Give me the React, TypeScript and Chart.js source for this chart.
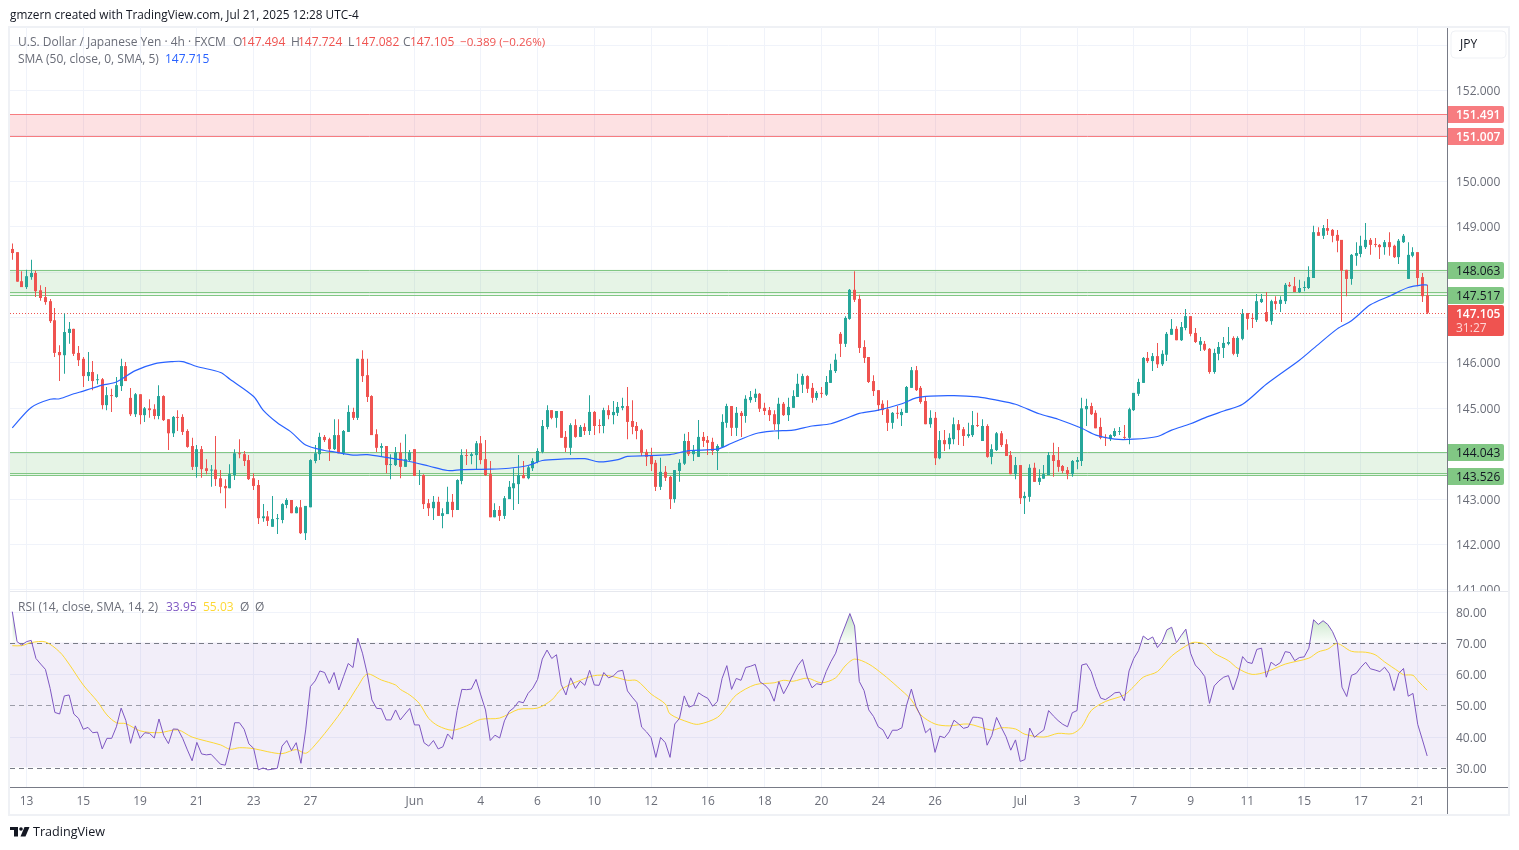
import { useEffect, useRef } from 'react'
import { Chart, registerables } from 'chart.js'

Chart.register(...registerables)

const FONT = '"Open Sans", sans-serif'
const UP = '#26a69a'
const DOWN = '#ef5350'
const GRID = '#f0f3fa'
const AXIS_TEXT = '#6a6d78'

const opens = [
  148.51,148.44,147.80,147.67,147.89,147.98,147.60,147.45,147.36,146.94,
  146.24,146.17,146.66,146.75,146.22,146.09,145.71,145.80,145.62,145.64,
  145.07,145.29,145.25,145.49,145.93,145.23,144.87,145.31,144.85,145.00,
  144.98,144.83,145.27,144.76,144.45,144.81,144.81,144.50,144.17,143.71,
  144.10,143.68,143.63,143.65,143.46,143.29,143.24,143.53,144.01,143.99,
  143.86,143.46,143.31,142.58,142.62,142.39,142.56,142.54,142.87,142.98,
  142.69,142.82,142.25,142.82,143.84,143.99,144.37,144.32,144.10,144.41,
  144.01,144.48,144.92,144.79,146.09,145.73,145.27,144.43,144.13,144.17,
  143.75,143.75,144.03,143.71,143.86,144.10,143.51,143.53,142.91,142.80,
  142.94,142.63,142.67,142.94,142.76,143.40,143.97,143.95,143.97,144.23,
  143.88,143.55,142.60,142.76,142.63,143.00,143.24,143.33,143.53,143.46,
  143.68,143.82,144.04,144.59,144.96,144.79,144.94,144.37,144.13,144.63,
  144.37,144.59,144.50,144.92,144.63,144.61,144.96,144.85,144.90,145.01,
  145.05,144.72,144.61,144.52,144.04,143.95,143.80,143.27,143.60,143.49,
  143.00,143.62,143.78,144.28,143.99,143.93,144.37,144.30,144.26,144.06,
  144.15,144.68,145.05,144.57,144.90,144.83,145.18,145.23,145.32,145.01,
  144.96,144.87,144.65,145.10,144.85,145.01,145.25,145.52,145.71,145.45,
  145.23,145.34,145.30,145.56,145.82,146.64,146.42,146.97,147.61,147.41,
  146.35,146.13,145.60,145.40,145.10,144.98,144.68,144.90,144.85,144.90,
  145.45,145.84,145.45,145.16,144.65,144.79,143.90,144.30,144.21,144.32,
  144.65,144.54,144.39,144.41,144.63,144.28,144.61,143.93,144.08,144.45,
  144.21,143.97,143.55,143.75,143.02,143.05,143.69,143.38,143.45,143.53,
  143.97,143.86,143.73,143.64,143.55,143.82,143.84,144.98,145.05,144.90,
  144.59,144.37,144.32,144.39,144.48,144.37,144.35,144.96,145.32,145.56,
  146.11,146.04,146.15,145.97,146.18,146.62,146.75,146.50,146.77,147.03,
  146.66,146.40,146.42,146.31,145.80,146.20,146.33,146.42,146.55,146.20,
  146.53,147.10,146.99,146.95,147.34,147.12,146.92,147.36,147.30,147.36,
  147.72,147.69,147.56,147.65,147.65,147.87,148.88,148.80,148.97,148.93,
  148.82,148.71,148.05,147.85,148.36,148.40,148.55,148.71,148.62,148.60,
  148.55,148.66,148.58,148.33,148.66,147.85,148.36,148.44,147.89,147.49,
]

const highs = [
  148.63,148.44,148.02,148.05,148.27,148.03,147.71,147.67,147.41,147.21,
  146.39,147.09,146.90,146.75,146.37,146.13,146.24,146.04,145.75,145.67,
  145.47,145.43,145.69,146.09,146.02,145.45,145.34,145.31,145.03,145.20,
  145.09,145.51,145.29,144.76,144.83,144.96,144.87,144.54,144.35,144.19,
  144.17,143.88,143.75,144.39,143.64,143.44,143.77,144.10,144.32,144.06,
  143.97,143.57,143.42,142.89,142.74,143.07,142.67,142.91,143.02,142.98,
  142.85,142.98,142.85,143.88,144.19,144.46,144.41,144.35,144.76,144.76,
  144.52,145.07,145.01,146.09,146.28,146.09,145.29,144.54,144.23,144.17,
  143.99,144.15,144.24,144.43,144.08,144.10,143.64,143.55,143.00,143.07,
  143.05,142.80,143.27,143.11,143.44,144.10,144.10,144.04,144.28,144.39,
  144.30,143.84,142.91,142.85,143.07,143.40,143.68,143.97,143.84,143.73,
  143.90,144.12,144.74,145.07,144.96,144.94,144.94,144.50,144.67,144.76,
  144.63,144.67,145.29,144.94,144.76,145.01,145.07,145.16,145.14,145.23,
  145.47,145.18,144.70,144.55,144.10,144.13,143.86,143.91,143.73,143.51,
  143.64,143.88,144.44,144.48,144.19,144.74,144.48,144.39,144.35,144.21,
  144.87,145.10,145.05,145.03,144.94,145.29,145.38,145.43,145.34,145.12,
  145.03,144.96,145.23,145.14,145.23,145.40,145.76,145.76,145.73,145.56,
  145.38,145.47,145.71,145.98,146.20,146.68,147.03,147.63,148.02,147.50,
  146.50,146.13,145.73,145.40,145.18,145.18,144.92,145.05,144.99,145.49,
  145.91,145.93,145.49,145.25,144.96,144.92,144.50,144.52,144.45,144.80,
  144.74,144.59,144.68,144.94,144.90,144.76,144.65,144.21,144.48,144.50,
  144.32,144.06,143.93,143.75,143.16,143.77,143.80,143.66,143.75,144.04,
  144.24,144.15,143.75,143.71,143.86,143.93,145.23,145.21,145.12,144.96,
  144.79,144.43,144.43,144.56,144.59,144.63,145.01,145.34,145.65,146.13,
  146.24,146.22,146.44,146.28,146.68,146.97,146.81,146.90,147.19,147.03,
  146.77,146.57,146.48,146.33,146.31,146.46,146.57,146.79,146.59,146.59,
  147.19,147.10,147.10,147.52,147.52,147.56,147.39,147.47,147.47,147.76,
  147.78,147.89,147.83,147.80,148.13,149.02,148.99,149.04,149.17,148.95,
  148.93,148.71,148.05,148.40,148.66,148.80,149.08,148.75,148.75,148.62,
  148.71,148.88,148.60,148.73,148.84,148.66,148.55,148.44,147.98,147.72,
]

const lows = [
  148.27,147.79,147.67,147.63,147.83,147.45,147.37,147.28,146.88,146.13,
  145.60,145.76,146.42,146.15,145.93,145.47,145.60,145.40,145.53,144.98,
  144.96,144.92,145.23,145.38,145.60,144.83,144.81,144.65,144.70,144.79,
  144.76,144.76,144.72,144.08,144.37,144.50,144.41,144.13,143.64,143.47,
  143.47,143.55,143.27,143.29,143.13,142.80,143.24,143.42,143.90,143.73,
  143.42,143.20,142.45,142.50,142.41,142.39,142.23,142.47,142.80,142.69,
  142.69,142.23,142.10,142.82,143.79,143.86,144.26,143.84,144.08,144.01,
  143.97,144.48,144.74,144.74,145.58,145.14,144.41,144.04,143.95,143.57,
  143.44,143.73,143.46,143.71,143.84,143.51,143.31,142.78,142.63,142.54,
  142.63,142.36,142.67,142.60,142.76,143.33,143.75,143.77,143.66,143.77,
  143.51,142.60,142.60,142.52,142.56,143.00,142.76,142.89,143.46,143.44,
  143.62,143.79,144.01,144.54,144.76,144.57,144.35,144.04,143.97,144.35,
  144.37,144.41,144.41,144.41,144.45,144.45,144.76,144.65,144.83,144.96,
  144.32,144.43,144.32,143.95,143.73,143.62,143.18,143.20,143.40,142.78,
  142.92,143.38,143.75,143.95,143.84,143.93,144.15,143.97,143.97,143.64,
  144.13,144.57,144.39,144.39,144.37,144.68,145.12,145.14,144.92,144.85,
  144.72,144.52,144.32,144.83,144.72,145.01,145.25,145.34,145.34,145.12,
  145.18,145.23,145.27,145.56,145.78,146.13,146.35,146.95,147.34,146.22,
  146.00,145.56,145.27,144.94,144.85,144.50,144.55,144.77,144.61,144.90,
  145.45,145.38,145.10,144.65,144.57,143.75,143.88,144.06,144.10,144.21,
  144.19,144.17,144.35,144.37,144.59,144.28,143.91,143.77,144.06,144.15,
  143.95,143.55,143.44,142.89,142.67,142.94,143.38,143.31,143.45,143.53,
  143.49,143.60,143.57,143.44,143.49,143.66,143.73,144.61,144.85,144.56,
  144.32,144.17,144.28,144.37,144.41,144.32,144.21,144.94,145.27,145.56,
  146.00,145.82,145.89,145.93,146.04,146.62,146.50,146.48,146.72,146.59,
  146.44,146.26,146.26,145.76,145.76,146.06,146.11,146.39,146.17,146.13,
  146.50,146.73,146.77,146.90,147.32,146.90,146.84,147.17,147.12,147.30,
  147.67,147.56,147.54,147.58,147.63,147.87,148.80,148.73,148.82,148.66,
  148.44,146.90,147.47,147.72,148.14,148.33,148.51,148.38,148.55,148.29,
  148.38,148.36,148.31,148.18,148.64,147.85,148.33,147.69,147.34,147.08,
]

const closes = [
  148.42,147.79,147.67,147.91,147.98,147.58,147.43,147.34,146.92,146.22,
  146.17,146.68,146.75,146.20,146.06,145.71,145.80,145.60,145.64,145.07,
  145.29,145.27,145.51,145.93,145.60,144.87,145.31,144.85,145.00,144.96,
  144.83,145.27,144.74,144.45,144.81,144.79,144.48,144.15,143.71,144.10,
  143.66,143.62,143.65,143.44,143.27,143.24,143.55,144.01,143.99,143.84,
  143.44,143.29,142.58,142.62,142.52,142.56,142.58,142.89,142.98,142.69,
  142.82,142.25,142.85,143.86,144.01,144.37,144.30,144.10,144.41,144.01,
  144.50,144.92,144.79,146.09,145.71,145.25,144.41,144.13,144.17,143.75,
  143.77,144.03,143.71,143.88,144.03,143.51,143.52,142.89,142.80,142.94,
  142.63,142.69,142.94,142.76,143.42,143.97,143.95,143.99,144.23,143.86,
  143.53,142.60,142.76,142.63,143.02,143.27,143.35,143.53,143.46,143.70,
  143.84,144.06,144.61,144.96,144.79,144.94,144.35,144.13,144.63,144.37,
  144.59,144.50,144.92,144.61,144.61,144.96,144.85,144.92,145.03,145.05,
  144.70,144.59,144.50,144.02,143.93,143.77,143.27,143.60,143.47,143.00,
  143.64,143.80,144.28,143.99,144.08,144.37,144.28,144.24,144.06,144.17,
  144.70,145.05,144.57,144.90,144.83,145.21,145.25,145.32,144.99,144.94,
  144.85,144.65,145.10,144.85,145.03,145.27,145.54,145.71,145.43,145.23,
  145.34,145.32,145.58,145.84,146.07,146.42,146.99,147.61,147.39,146.33,
  146.11,145.58,145.38,145.07,144.96,144.68,144.90,144.88,144.92,145.47,
  145.84,145.40,145.14,144.65,144.79,143.90,144.30,144.21,144.35,144.65,
  144.52,144.39,144.43,144.63,144.61,144.61,143.93,144.10,144.45,144.19,
  143.95,143.55,143.75,143.02,143.07,143.69,143.38,143.47,143.55,143.97,
  143.84,143.71,143.62,143.55,143.84,143.86,145.00,145.05,144.87,144.56,
  144.35,144.35,144.41,144.50,144.50,144.35,144.98,145.34,145.58,146.11,
  146.04,146.15,145.97,146.20,146.64,146.75,146.50,146.79,147.03,146.64,
  146.46,146.48,146.29,145.80,146.22,146.35,146.44,146.46,146.20,146.55,
  147.08,146.97,146.97,147.36,147.41,146.92,147.36,147.30,147.39,147.72,
  147.69,147.56,147.65,147.67,147.89,148.88,148.80,148.97,148.91,148.80,
  148.69,148.03,147.85,148.38,148.42,148.58,148.71,148.60,148.60,148.55,
  148.66,148.55,148.33,148.69,148.80,148.38,148.44,147.87,147.47,147.105,
]

// SMA 50 at these bars
const smaBars = [
  0,4,8,10,13,15,19,22,26,30,34,36,39,44,46,51,53,56,59,62,66,68,72,75,79,83,88,92,95,101,
  105,109,112,116,121,124,128,130,139,143,149,152,157,161,165,169,173,176,179,183,188,191,194,
  199,204,208,212,217,221,226,229,233,237,242,245,249,252,256,260,265,272,275,280,283,287,291,295,298,299,
]
const smaValues = [
  144.57,145.02,145.20,145.21,145.32,145.38,145.51,145.58,145.83,145.98,146.03,146.03,145.92,145.79,145.64,145.26,144.96,144.68,144.47,144.19,144.07,144.04,143.97,143.98,143.92,143.85,143.73,143.63,143.65,143.66,
  143.68,143.74,143.85,143.88,143.89,143.82,143.87,143.94,143.98,144.07,144.10,144.23,144.44,144.50,144.52,144.61,144.66,144.77,144.89,144.96,145.10,145.23,145.27,
  145.28,145.25,145.18,145.09,144.88,144.76,144.56,144.41,144.32,144.32,144.38,144.52,144.66,144.79,144.94,145.09,145.53,146.06,146.32,146.75,146.93,147.28,147.47,147.66,147.72,147.715,
]

const rsi = [
  80.2,70.6,69.5,70.6,71.0,65.2,63.4,61.7,55.6,47.9,
  47.4,53.2,53.5,47.4,46.0,42.5,43.1,41.4,41.6,36.2,
  39.6,39.6,43.3,49.3,45.3,38.0,43.6,39.6,41.4,41.2,
  39.7,45.8,40.5,37.9,42.6,42.5,39.6,35.9,32.4,38.3,
  34.6,34.3,34.5,32.9,31.3,31.0,36.9,44.6,44.6,42.5,
  37.8,36.4,29.5,30.1,29.5,29.7,30.0,37.1,38.9,35.7,
  38.2,31.6,42.3,56.2,58.0,61.2,60.7,57.2,60.7,55.1,
  59.4,63.6,62.3,71.7,66.9,60.4,51.9,49.2,49.1,45.5,
  45.5,48.7,45.5,47.4,49.2,43.9,43.9,38.2,37.1,38.9,
  36.2,36.9,41.0,39.3,48.5,55.3,55.2,55.4,58.5,53.5,
  48.7,38.9,40.6,39.7,45.2,48.2,49.4,51.4,51.0,54.0,
  55.7,58.5,65.0,67.9,65.2,66.4,56.9,53.5,59.0,55.6,
  57.9,56.6,61.4,56.7,56.6,60.7,59.0,59.6,61.1,61.4,
  54.8,52.8,51.0,43.2,41.7,39.8,33.5,39.9,38.2,33.5,
  44.2,46.0,53.2,49.6,50.2,54.2,53.2,52.4,49.9,51.4,
  58.8,62.9,55.3,58.8,58.2,62.3,62.7,63.3,57.7,56.7,
  55.1,51.5,57.8,53.9,56.7,59.9,62.9,64.9,59.2,55.8,
  57.1,56.8,61.0,64.2,66.9,71.7,75.6,79.6,75.6,57.8,
  54.9,48.7,46.6,43.3,42.3,39.4,42.2,42.2,43.0,50.3,
  55.4,49.8,46.6,41.4,42.8,35.1,40.3,39.8,41.7,45.4,
  44.2,42.8,43.2,46.4,46.3,46.0,37.4,40.5,46.3,43.1,
  40.1,35.8,39.1,32.2,32.8,42.9,39.9,41.2,42.3,48.5,
  46.8,45.3,44.1,43.3,47.8,48.5,63.1,63.5,61.0,56.2,
  52.5,52.0,53.0,54.2,54.4,51.6,61.2,65.2,67.7,72.4,
  71.2,72.1,68.7,70.6,74.4,75.2,70.3,72.5,74.6,66.9,
  63.1,61.5,59.4,50.8,56.4,58.0,59.2,59.7,55.1,59.6,
  65.8,64.0,63.6,68.1,68.5,59.2,64.0,62.9,63.9,67.4,
  67.1,64.5,65.5,65.7,68.5,77.6,76.1,77.3,76.1,73.8,
  70.3,56.0,53.0,59.8,60.4,62.4,64.0,61.9,61.5,61.0,
  62.4,60.4,54.9,60.4,62.0,53.1,54.0,44.1,39.1,33.95,
]

// RSI moving average at these bars
const rsiMaBars = [
  0,2,4,7,10,12,15,18,20,22,24,27,31,35,38,44,46,48,51,54,57,60,62,64,68,71,73,75,78,81,82,84,86,88,90,93,96,99,103,107,111,114,116,120,123,126,130,132,135,138,139,143,145,149,151,153,157,161,163,165,168,171,174,176,178,181,184,187,190,192,195,198,202,207,209,212,214,218,221,224,226,228,231,235,237,239,242,245,249,250,252,254,257,259,262,265,269,274,276,278,280,283,286,288,290,293,294,296,297,299,
]
const rsiMaValues = [
  69.3,69.3,70.3,70.5,67.3,63.4,56.7,51.4,47.1,44.6,44.3,42.0,41.4,42.3,40.0,37.5,36.1,36.6,36.3,35.3,34.7,36.0,34.8,37.5,45.0,51.4,56.2,60.2,58.3,56.7,55.3,53.5,50.8,46.0,43.6,42.2,43.6,45.7,46.1,48.9,49.3,51.9,55.3,58.2,59.7,59.7,58.2,58.1,53.8,50.6,47.4,44.7,44.1,46.3,49.8,53.5,56.8,57.4,58.2,57.9,58.9,57.4,59.0,62.8,65.0,63.4,60.1,56.2,51.9,47.1,44.2,43.6,44.2,42.2,43.0,42.6,40.9,40.0,41.2,41.1,43.3,48.5,51.4,53.5,56.2,59.2,61.0,66.0,70.1,70.4,69.8,66.9,64.5,62.0,60.1,60.9,63.4,65.3,67.3,68.2,70.0,67.5,67.2,66.4,64.1,61.0,60.0,59.8,58.1,55.03,
]

const tickBars = [3,15,27,39,51,63,85,99,111,123,135,147,159,171,183,195,213,225,237,249,261,273,285,297]
const tickLabels = ['13','15','19','21','23','27','Jun','4','6','10','12','16','18','20','24','26','Jul','3','7','9','11','15','17','21']

const rsiGridLevels = [80, 70, 60, 50, 40, 30]

const redZone = [151.491, 151.007]
const upperGreenZone = [148.063, 147.517, 147.58]
const lowerGreenZone = [144.043, 143.54, 143.58]
const lastPrice = 147.105
const priceTags = [151.491, 151.007, 148.063, 147.517, 144.043, 143.526]

const overlay = {
  id: 'overlay',
  beforeDraw(chart: any) {
    const { ctx } = chart
    ctx.save()
    ctx.fillStyle = '#fff'
    ctx.fillRect(0, 0, chart.width, chart.height)
    ctx.strokeStyle = '#eff1f5'
    ctx.lineWidth = 2
    ctx.strokeRect(9, 27, 1500, 788)
    ctx.restore()
    // the value axis text sits one pixel lower in the reference
    ;[chart.scales.price, chart.scales.rsi].forEach((scale: any) => {
      scale.getLabelItems(chart.chartArea).forEach((item: any) => {
        if (item.moved) return
        item.options.translation = [item.options.translation[0], item.options.translation[1] + 1]
        item.moved = true
      })
    })
  },
  afterDatasetsUpdate(chart: any) {
    // keep candles on whole pixels so wicks stay sharp
    chart.data.datasets.forEach((ds: any, i: number) => {
      if (ds.type !== 'bar') return
      chart.getDatasetMeta(i).data.forEach((el: any) => {
        el.x = Math.floor(el.x) + 0.5
      })
    })
  },
  beforeDatasetsDraw(chart: any) {
    const { ctx, chartArea, scales } = chart
    const { left, right } = chartArea
    const py = (v: number) => scales.price.getPixelForValue(v)
    const ry = (v: number) => scales.rsi.getPixelForValue(v) - 1
    const hline = (y: number, color: string, dash: number[] = []) => {
      ctx.beginPath()
      ctx.setLineDash(dash)
      ctx.strokeStyle = color
      ctx.lineWidth = 1
      ctx.moveTo(left, Math.ceil(y) + 0.5)
      ctx.lineTo(right, Math.ceil(y) + 0.5)
      ctx.stroke()
    }
    ctx.save()

    ctx.fillStyle = 'rgba(242,54,69,0.15)'
    ctx.fillRect(left, py(redZone[0]) + 0.5, right - left, py(redZone[1]) - py(redZone[0]))
    redZone.forEach((v) => hline(py(v), '#f77c80'))

    ;[upperGreenZone, lowerGreenZone].forEach((z) => {
      ctx.fillStyle = 'rgba(76,175,80,0.14)'
      ctx.fillRect(left, py(z[0]) + 0.5, right - left, py(z[1]) - py(z[0]))
      z.forEach((v) => hline(py(v), '#81c784'))
    })

    // RSI band and levels
    ctx.fillStyle = 'rgba(126,87,194,0.1)'
    ctx.fillRect(left, ry(70), right - left, ry(30) - ry(70))
    hline(ry(70), '#787b86', [5, 4])
    hline(ry(50), 'rgba(120,123,134,0.7)', [5, 4])
    hline(ry(30), '#787b86', [5, 4])

    hline(py(lastPrice), DOWN, [1, 2])
    ctx.restore()
  },
  afterDraw(chart: any) {
    const { ctx, chartArea, scales } = chart
    const axisX = chartArea.right
    const py = (v: number) => scales.price.getPixelForValue(v)
    const text = (s: string, x: number, y: number, color: string, size = 12, weight = 400) => {
      ctx.font = `${weight} ${size}px ${FONT}`
      ctx.fillStyle = color
      ctx.fillText(s, x, y + 1)
    }
    ctx.save()

    // hides the part of the lowest price label that runs into the RSI pane
    ctx.fillStyle = '#fff'
    ctx.fillRect(axisX + 1, scales.price.bottom - 1, 60, 8)

    ctx.fillStyle = '#e6e8ee'
    ctx.fillRect(chartArea.left, scales.price.bottom - 1, 1498, 1)
    ctx.fillStyle = '#787b86'
    ctx.fillRect(axisX, 28, 1, 786)
    ctx.fillRect(chartArea.left, chartArea.bottom, 1498, 1)

    ctx.textBaseline = 'middle'
    ctx.textAlign = 'left'
    text('gmzern created with TradingView.com, Jul 21, 2025 12:28 UTC-4', 10, 15, '#131722', 11.8)
    text('U.S. Dollar / Japanese Yen · 4h · FXCM', 18, 42, AXIS_TEXT)
    ;[['O', 233, '147.494', 241], ['H', 291, '147.724', 298], ['L', 348, '147.082', 355], ['C', 403, '147.105', 410]].forEach(
      ([a, ax, b, bx]: any) => {
        text(a, ax, 42, AXIS_TEXT)
        text(b, bx, 42, DOWN)
      },
    )
    text('−0.389 (−0.26%)', 460, 42, DOWN, 11.6)
    text('SMA (50, close, 0, SMA, 5)', 18, 59, AXIS_TEXT)
    text('147.715', 165, 59, '#2962ff')
    text('RSI (14, close, SMA, 14, 2)', 18, 607, AXIS_TEXT)
    text('33.95', 166, 607, '#7e57c2')
    text('55.03', 203, 607, '#fdd835')
    text('Ø', 240, 607, AXIS_TEXT)
    text('Ø', 255, 607, AXIS_TEXT)

    // JPY button
    ctx.beginPath()
    ctx.roundRect(1451, 31, 55, 27, 4)
    ctx.fillStyle = '#fff'
    ctx.fill()
    ctx.strokeStyle = '#eff1f5'
    ctx.lineWidth = 1
    ctx.stroke()
    text('JPY', 1460, 44, '#131722')

    const tag = (y: number, h: number, bg: string) => {
      ctx.beginPath()
      ctx.roundRect(axisX + 1, y - h / 2, 56, h, [0, 2, 2, 0])
      ctx.fillStyle = bg
      ctx.fill()
    }
    priceTags.forEach((v) => {
      const y = Math.ceil(py(v))
      const red = v > 150
      tag(y + 0.5, 17, red ? '#f77c80' : '#81c784')
      text(v.toFixed(3), axisX + 9, y + 1, red ? '#fff' : '#131722', 12, red ? 600 : 400)
    })
    const ly = Math.ceil(py(lastPrice))
    ctx.beginPath()
    ctx.roundRect(axisX + 1, ly - 8, 56, 31, [0, 2, 2, 0])
    ctx.fillStyle = DOWN
    ctx.fill()
    text(lastPrice.toFixed(3), axisX + 9, ly + 1, '#fff', 12, 600)
    text('31:27', axisX + 9, ly + 15, '#ffd5d5')

    // TradingView mark
    ctx.fillStyle = '#131722'
    ctx.fillRect(10, 827, 8, 3)
    ctx.fillRect(14, 830, 4, 6.5)
    ctx.beginPath()
    ctx.arc(21, 829, 1.8, 0, Math.PI * 2)
    ctx.fill()
    ctx.beginPath()
    ctx.moveTo(24.5, 827)
    ctx.lineTo(29.5, 827)
    ctx.lineTo(25.5, 836.5)
    ctx.lineTo(20.5, 836.5)
    ctx.closePath()
    ctx.fill()
    text('TradingView', 33, 831, '#131722', 12.6)

    ctx.restore()
  },
}

const App = () => {
  const canvasRef = useRef<HTMLCanvasElement>(null)

  useEffect(() => {
    if (!canvasRef.current) return
    document.body.style.margin = '0'

    const chart = new Chart(canvasRef.current, {
      type: 'bar',
      data: {
        datasets: [
          {
            type: 'line',
            yAxisID: 'price',
            data: smaBars.map((x, i) => ({ x, y: smaValues[i] })),
            borderColor: '#2962ff',
            borderWidth: 1.2,
            pointRadius: 0,
            tension: 0.3,
          },
          {
            type: 'line',
            yAxisID: 'rsi',
            data: rsi.map((y, x) => ({ x, y })),
            borderColor: '#7e57c2',
            borderWidth: 1,
            pointRadius: 0,
            tension: 0,
            fill: { target: { value: 70 }, above: 'rgba(76,175,80,0.2)', below: 'transparent' },
          },
          {
            type: 'line',
            yAxisID: 'rsi',
            data: rsiMaBars.map((x, i) => ({ x, y: rsiMaValues[i] })),
            borderColor: '#fdd835',
            borderWidth: 1,
            pointRadius: 0,
            tension: 0.3,
          },
          {
            type: 'bar',
            yAxisID: 'price',
            grouped: false,
            barThickness: 3,
            inflateAmount: 0,
            borderWidth: 0,
            data: opens.map((o, x) => ({ x, y: [o, closes[x]] })),
            backgroundColor: opens.map((o, i) => (closes[i] >= o ? UP : DOWN)),
          },
          {
            type: 'bar',
            yAxisID: 'price',
            grouped: false,
            barThickness: 1,
            inflateAmount: 0,
            borderWidth: 0,
            data: lows.map((l, x) => ({ x, y: [l, highs[x]] })),
            backgroundColor: opens.map((o, i) => (closes[i] >= o ? UP : DOWN)),
          },
        ] as any,
      },
      options: {
        responsive: false,
        animation: false,
        events: [],
        layout: { padding: { left: 10, right: 11, top: 27, bottom: 35 } },
        plugins: { legend: { display: false }, tooltip: { enabled: false } },
        scales: {
          x: {
            type: 'linear',
            offset: false,
            min: -0.486,
            max: 303.19,
            grid: { color: GRID, drawTicks: false, offset: false },
            border: { display: false },
            afterBuildTicks: (scale: any) => {
              scale.ticks = tickBars.map((value) => ({ value }))
            },
            afterFit: (scale: any) => {
              scale.height = 28
            },
            ticks: {
              autoSkip: false,
              maxRotation: 0,
              padding: 7,
              color: AXIS_TEXT,
              font: { family: FONT, size: 12 },
              callback: (_v: any, i: number) => tickLabels[i],
            },
          },
          price: {
            axis: 'y',
            type: 'linear',
            position: 'right',
            stack: 'panes',
            stackWeight: 565,
            min: 140.954,
            max: 153.399,
            grid: { color: GRID, drawTicks: false },
            border: { display: false },
            afterFit: (scale: any) => {
              scale.width = 61
            },
            ticks: {
              stepSize: 1,
              includeBounds: false,
              padding: 9,
              color: AXIS_TEXT,
              font: { family: FONT, size: 12 },
              callback: (v: any) => Number(v).toFixed(3),
            },
          },
          rsi: {
            axis: 'y',
            type: 'linear',
            position: 'right',
            stack: 'panes',
            stackWeight: 195,
            min: 24,
            max: 86.51,
            grid: {
              drawTicks: false,
              color: (c: any) => ([70, 50, 30].includes(c.tick?.value) ? 'transparent' : GRID),
            },
            border: { display: false },
            afterBuildTicks: (scale: any) => {
              scale.ticks = rsiGridLevels.map((value) => ({ value }))
            },
            afterFit: (scale: any) => {
              scale.width = 61
            },
            ticks: {
              padding: 9,
              color: AXIS_TEXT,
              font: { family: FONT, size: 12 },
              callback: (v: any) => Number(v).toFixed(2),
            },
          },
        },
      } as any,
      plugins: [overlay],
    })

    // green glow above the 70 level fades out towards the level
    const g = chart.ctx.createLinearGradient(0, chart.scales.rsi.getPixelForValue(80), 0, chart.scales.rsi.getPixelForValue(70))
    g.addColorStop(0, 'rgba(76,175,80,0.35)')
    g.addColorStop(1, 'rgba(76,175,80,0.02)')
    ;(chart.data.datasets[1] as any).fill.above = g
    chart.update()

    return () => chart.destroy()
  }, [])

  return <canvas ref={canvasRef} width={1519} height={850} style={{ display: 'block' }} />
}

export default App
